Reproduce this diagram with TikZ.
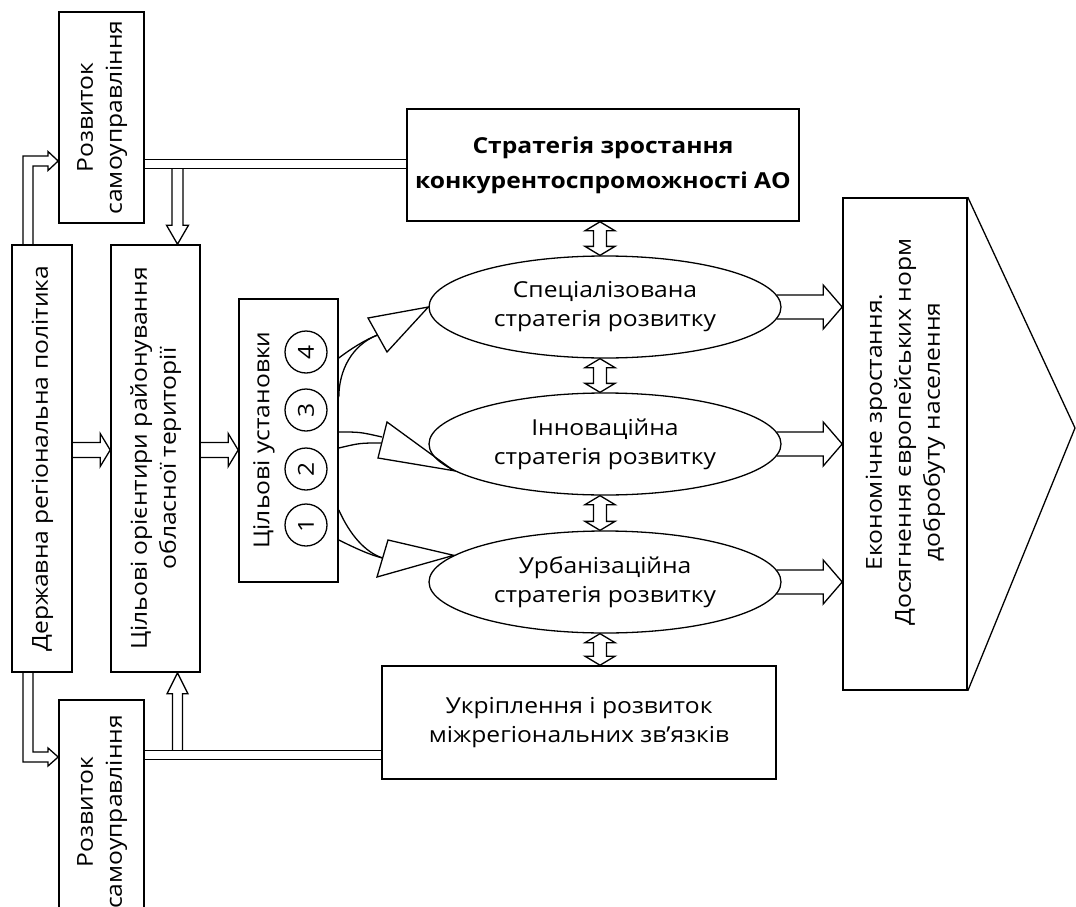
\documentclass[tikz,border=0pt]{standalone}
\usepackage{fontspec}
\setmainfont{Open Sans}[FakeStretch=1.12]
\usepackage{tikz}
\usetikzlibrary{calc,shapes.geometric}

\newcommand{\vtxt}[1]{\rotatebox{90}{\begin{tabular}{@{}c@{}}#1\end{tabular}}}
% block arrow: from #1 to #2, shaft half width #3, head half width #4, head length #5
\newcommand{\blockarr}[5]{%
  \coordinate (hb) at ($(#2)!#5!(#1)$);
  \draw[arr] ($(#1)!#3!90:(#2)$) -- ($(hb)!#3!90:(#2)$) -- ($(hb)!#4!90:(#2)$) -- (#2)
    -- ($(hb)!#4!-90:(#2)$) -- ($(hb)!#3!-90:(#2)$) -- ($(#1)!#3!-90:(#2)$);}
% two-headed block arrow
\newcommand{\twoarr}[5]{%
  \coordinate (ha) at ($(#1)!#5!(#2)$);
  \coordinate (hb) at ($(#2)!#5!(#1)$);
  \draw[arr] (#1) -- ($(ha)!#4!90:(#2)$) -- ($(ha)!#3!90:(#2)$) -- ($(hb)!#3!90:(#2)$)
    -- ($(hb)!#4!90:(#2)$) -- (#2) -- ($(hb)!#4!-90:(#2)$) -- ($(hb)!#3!-90:(#2)$)
    -- ($(ha)!#3!-90:(#2)$) -- ($(ha)!#4!-90:(#2)$) -- cycle;}

\begin{document}
\begin{tikzpicture}[x=1pt,y=-1pt,font=\fontsize{22}{29}\selectfont,
    box/.style={draw,line width=1.6pt,inner sep=0pt,align=center},
    oval/.style={draw,ellipse,line width=1.3pt,inner sep=0pt,align=center,
      minimum width=352pt,minimum height=102pt},
    num/.style={draw,circle,line width=1.3pt,inner sep=0pt,minimum size=42pt,rotate=90},
    arr/.style={draw,line width=1.3pt,line join=miter},
    link/.style={double,double distance=8pt,line width=1.3pt}]
  \useasboundingbox (0,0) rectangle (1076,907);
  \clip (0,0) rectangle (1076,907);

  % left column
  \node[box,minimum width=85pt,minimum height=211pt] (rozvT) at (101.5,117.5) {\vtxt{Розвиток\\самоуправління}};
  \node[box,minimum width=60pt,minimum height=427pt] (derzh) at (42,458.5) {\vtxt{Державна регіональна політика}};
  \node[box,minimum width=89pt,minimum height=427pt] (orient) at (155.5,458.5) {\vtxt{Цільові орієнтири районування\\обласної території}};
  \node[box,minimum width=85pt,minimum height=224pt] (rozvB) at (101.5,812) {\vtxt{Розвиток\\самоуправління}};

  % target settings
  \node[box,minimum width=99pt,minimum height=283pt] (ustan) at (288.5,440.5) {};
  \node[rotate=90] (ustlbl) at (264,440) {Цільові установки};
  \foreach \i/\y in {1/525,2/469,3/410,4/352}
    \node[num] (c\i) at (306,\y) {\i};

  % strategies
  \node[box,minimum width=392pt,minimum height=112pt,font=\bfseries\fontsize{22}{35}\selectfont] (strat) at (603,165) {Стратегія зростання\\конкурентоспроможності АО};
  \node[oval] (spec) at (605,307) {Спеціалізована\\стратегія розвитку};
  \node[oval] (innov) at (605,444) {Інноваційна\\стратегія розвитку};
  \node[oval] (urban) at (605,582) {Урбанізаційна\\стратегія розвитку};
  \node[box,minimum width=394pt,minimum height=113pt] (ukr) at (579,722.5) {Укріплення і розвиток\\міжрегіональних зв’язків};

  % result
  \node[box,minimum width=124pt,minimum height=492pt] (econ) at (905,444) {};
  \node (econlbl) at (905,432) {\vtxt{Економічне зростання.\\Досягнення європейських норм\\добробуту населення}};
  \coordinate (apex) at (1075,428);
  \draw[line width=1.3pt] (econ.north east) -- (apex) -- (econ.south east);

  % links of self-government
  \draw[link] (rozvT.east |- 0,164) -- (strat.west |- 0,164);
  \draw[link] (rozvB.east |- 0,755) -- (ukr.west |- 0,755);
  \blockarr{177.5,168.5}{orient.north -| 177.5,0}{5.5pt}{11pt}{19pt}
  \blockarr{177.5,750.5}{orient.south -| 177.5,0}{5pt}{10.5pt}{21pt}
  \draw[arr] (derzh.north -| 23,0) -- (23,156) -- (48,156) -- (48,151.5) -- (rozvT.west |- 0,161)
    -- (48,170.5) -- (48,166) -- (33,166) -- (derzh.north -| 33,0);
  \draw[arr] (derzh.south -| 23,0) -- (23,762) -- (48,762) -- (48,766) -- (rozvB.west |- 0,757)
    -- (48,748) -- (48,752) -- (33,752) -- (derzh.south -| 33,0);
  \blockarr{derzh.east |- 0,450}{orient.west |- 0,450}{7.5pt}{16.5pt}{10pt}
  \blockarr{orient.east |- 0,450}{ustan.west |- 0,450}{7.5pt}{16.5pt}{10pt}

  % targets to strategies
  \draw[arr] (ustan.east |- 0,358) .. controls (352,348) and (365,340) .. (377.5,335);
  \draw[arr] (ustan.east |- 0,397) .. controls (339,370) and (352,345) .. (377.5,335);
  \draw[arr] (368,318) -- (spec.west) -- (387,352) -- cycle;
  \draw[arr] (ustan.east |- 0,432) .. controls (360,432) .. (382,437);
  \draw[arr] (ustan.east |- 0,448) .. controls (360,443) .. (381,443);
  \draw[arr] (387,422) -- (innov.190) -- (378,458) -- cycle;
  \draw[arr] (ustan.east |- 0,510) .. controls (350,535) and (365,552) .. (382.5,558);
  \draw[arr] (ustan.east |- 0,540) .. controls (355,548) and (370,555) .. (382.5,558);
  \draw[arr] (388,540) -- (urban.170) -- (377,577) -- cycle;

  % between strategies
  \twoarr{strat.south -| 600,0}{spec.north -| 600,0}{6.5pt}{15pt}{9pt}
  \twoarr{spec.south -| 600,0}{innov.north -| 600,0}{6.5pt}{15pt}{9pt}
  \twoarr{innov.south -| 600,0}{urban.north -| 600,0}{6.5pt}{15pt}{9pt}
  \twoarr{urban.south -| 600,0}{ukr.north -| 600,0}{6.5pt}{15pt}{9pt}

  % strategies to result
  \blockarr{$(spec.east)+(-5,0)$}{econ.west |- spec.east}{12pt}{22pt}{19pt}
  \blockarr{$(innov.east)+(-5,0)$}{econ.west |- innov.east}{12pt}{22pt}{19pt}
  \blockarr{$(urban.east)+(-5,0)$}{econ.west |- urban.east}{12pt}{22pt}{19pt}
\end{tikzpicture}
\end{document}
